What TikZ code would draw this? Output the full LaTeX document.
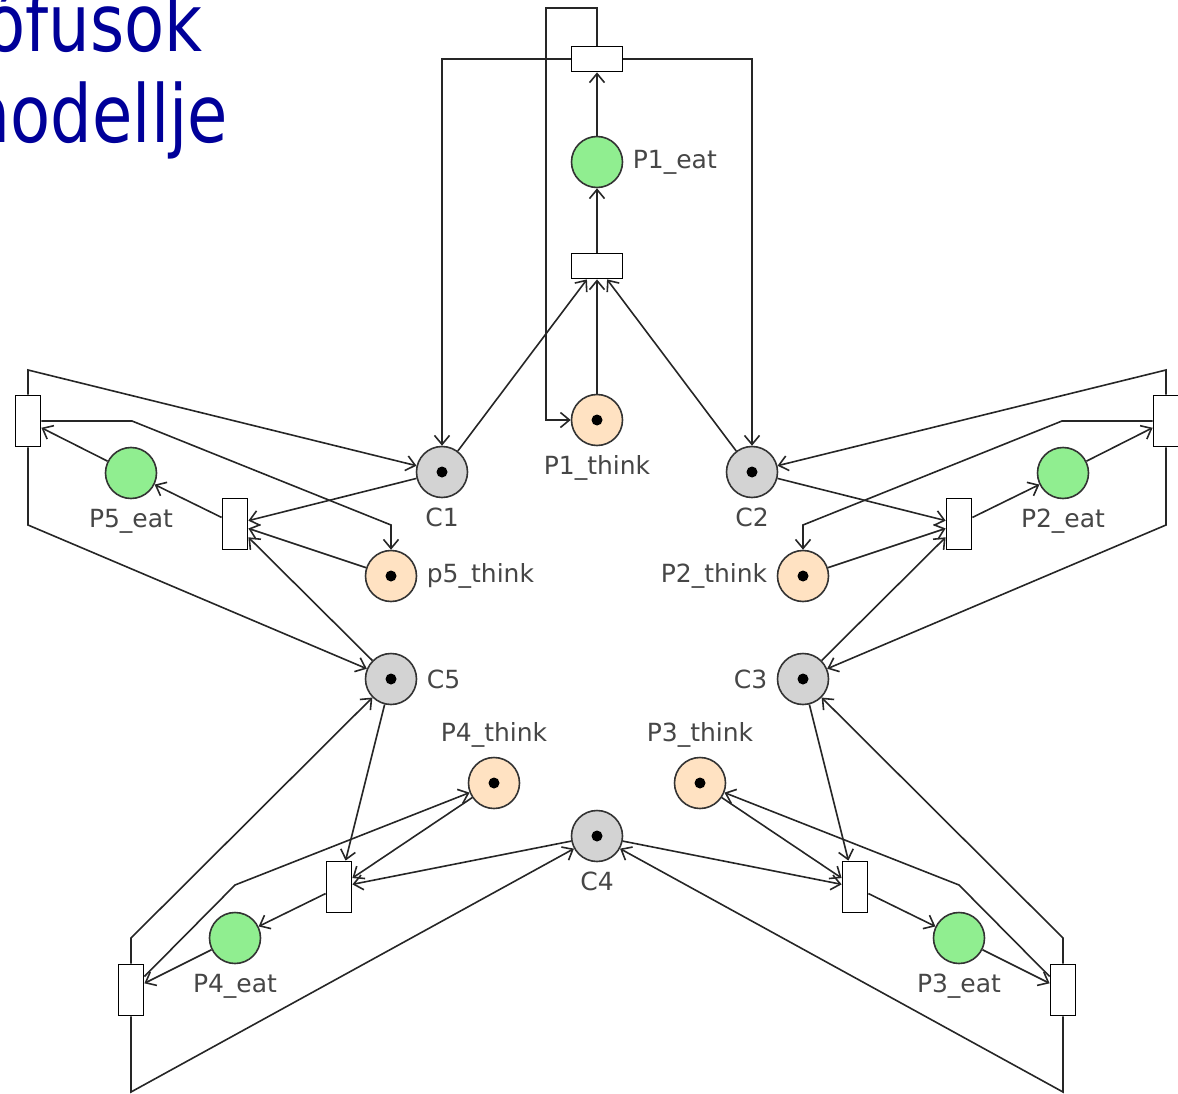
\documentclass[tikz,border=0pt]{standalone}
\usepackage{fontspec}
\usetikzlibrary{arrows.meta}
\newfontfamily\titlefont[FakeStretch=0.82]{DejaVu Sans}
\newfontfamily\labelfont{DejaVu Sans}
\definecolor{titleblue}{RGB}{0,0,153}
\definecolor{eatgreen}{RGB}{144,238,144}
\definecolor{thinkbeige}{RGB}{255,226,194}
\definecolor{forkgray}{RGB}{211,211,211}
\definecolor{labelgray}{RGB}{70,70,70}

\begin{document}
\begin{tikzpicture}[x=1pt, y=-1pt,
   place/.style={draw=black!80, circle, line width=1.6pt, minimum size=51pt, inner sep=0pt},
   marked/.style={path picture={\fill[black] (path picture bounding box.center) circle (5.5pt);}},
   eat/.style={place, fill=eatgreen},
   think/.style={place, marked, fill=thinkbeige},
   fork/.style={place, marked, fill=forkgray},
   htrans/.style={draw=black, fill=white, line width=1.8pt, minimum width=51pt, minimum height=25pt, inner sep=0pt},
   vtrans/.style={htrans, minimum width=25pt, minimum height=51pt},
   flow/.style={draw=black!85, line width=1.6pt, -{Straight Barb[length=9pt,width=15pt]}},
   every label/.style={font=\labelfont\fontsize{25}{30}\selectfont, text=labelgray},
   label distance=6pt]

\useasboundingbox (0,0) rectangle (1178,1094);

% title, cut at the left edge
\node[font=\titlefont\fontsize{80}{96}\selectfont, text=titleblue, anchor=base east, inner sep=0pt] (title1) at (203,52) {ófusok};
\node[font=\titlefont\fontsize{80}{96}\selectfont, text=titleblue, anchor=base east, inner sep=0pt] (title2) at (228,143) {modellje};

% forks
\node[fork, label=-90:C1] (c1) at (442,472) {};
\node[fork, label=-90:C2] (c2) at (752,472) {};
\node[fork, label=180:C3] (c3) at (803,679) {};
\node[fork, label=-90:C4] (c4) at (597,836) {};
\node[fork, label=0:C5] (c5) at (391,679) {};

% philosophers
\node[think, label=-90:{P1\_think}] (think1) at (597,420) {};
\node[eat, label=0:{P1\_eat}] (eat1) at (597,162) {};
\node[htrans] (take1) at (597,266) {};
\node[htrans] (put1) at (597,59) {};

\node[think, label=180:{P2\_think}] (think2) at (803,576) {};
\node[eat, label=-90:{P2\_eat}] (eat2) at (1063,473) {};
\node[vtrans] (take2) at (959,524) {};
\node[vtrans] (put2) at (1166,421) {};

\node[think, label=90:{P3\_think}] (think3) at (700,783) {};
\node[eat, label=-90:{P3\_eat}] (eat3) at (959,938) {};
\node[vtrans] (take3) at (855,887) {};
\node[vtrans] (put3) at (1063,990) {};

\node[think, label=90:{P4\_think}] (think4) at (494,783) {};
\node[eat, label=-90:{P4\_eat}] (eat4) at (235,938) {};
\node[vtrans] (take4) at (339,887) {};
\node[vtrans] (put4) at (131,990) {};

\node[think, label=0:{p5\_think}] (think5) at (391,576) {};
\node[eat, label=-90:{P5\_eat}] (eat5) at (131,473) {};
\node[vtrans] (take5) at (235,524) {};
\node[vtrans] (put5) at (28,421) {};

% P1
\draw[flow] (think1) -- (take1);
\draw[flow] (c1) -- (take1);
\draw[flow] (c2) -- (take1);
\draw[flow] (take1) -- (eat1);
\draw[flow] (eat1) -- (put1);
\draw[flow] (put1) -| (c1);
\draw[flow] (put1) -| (c2);
\draw[flow] (put1) |- (546,8) |- (think1);

% P2
\draw[flow] (c2) -- (take2);
\draw[flow] (think2) -- (take2);
\draw[flow] (c3) -- (take2);
\draw[flow] (take2) -- (eat2);
\draw[flow] (eat2) -- (put2);
\draw[flow] (put2) -- (1166,370) -- (c2);
\draw[flow] (put2) -- (1062,421) -- (803,525) -- (think2);
\draw[flow] (put2) -- (1166,525) -- (c3);

% P3
\draw[flow] (c3) -- (take3);
\draw[flow] (think3) -- (take3);
\draw[flow] (c4) -- (take3);
\draw[flow] (take3) -- (eat3);
\draw[flow] (eat3) -- (put3);
\draw[flow] (put3) -- (1063,938) -- (c3);
\draw[flow] (put3) -- (959,885) -- (think3);
\draw[flow] (put3) -- (1063,1092) -- (c4);

% P4
\draw[flow] (c5) -- (take4);
\draw[flow] (think4) -- (take4);
\draw[flow] (c4) -- (take4);
\draw[flow] (take4) -- (eat4);
\draw[flow] (eat4) -- (put4);
\draw[flow] (put4) -- (131,938) -- (c5);
\draw[flow] (put4) -- (235,885) -- (think4);
\draw[flow] (put4) -- (131,1092) -- (c4);

% P5
\draw[flow] (c1) -- (take5);
\draw[flow] (think5) -- (take5);
\draw[flow] (c5) -- (take5);
\draw[flow] (take5) -- (eat5);
\draw[flow] (eat5) -- (put5);
\draw[flow] (put5) -- (28,370) -- (c1);
\draw[flow] (put5) -- (132,421) -- (391,525) -- (think5);
\draw[flow] (put5) -- (28,525) -- (c5);

\end{tikzpicture}
\end{document}
